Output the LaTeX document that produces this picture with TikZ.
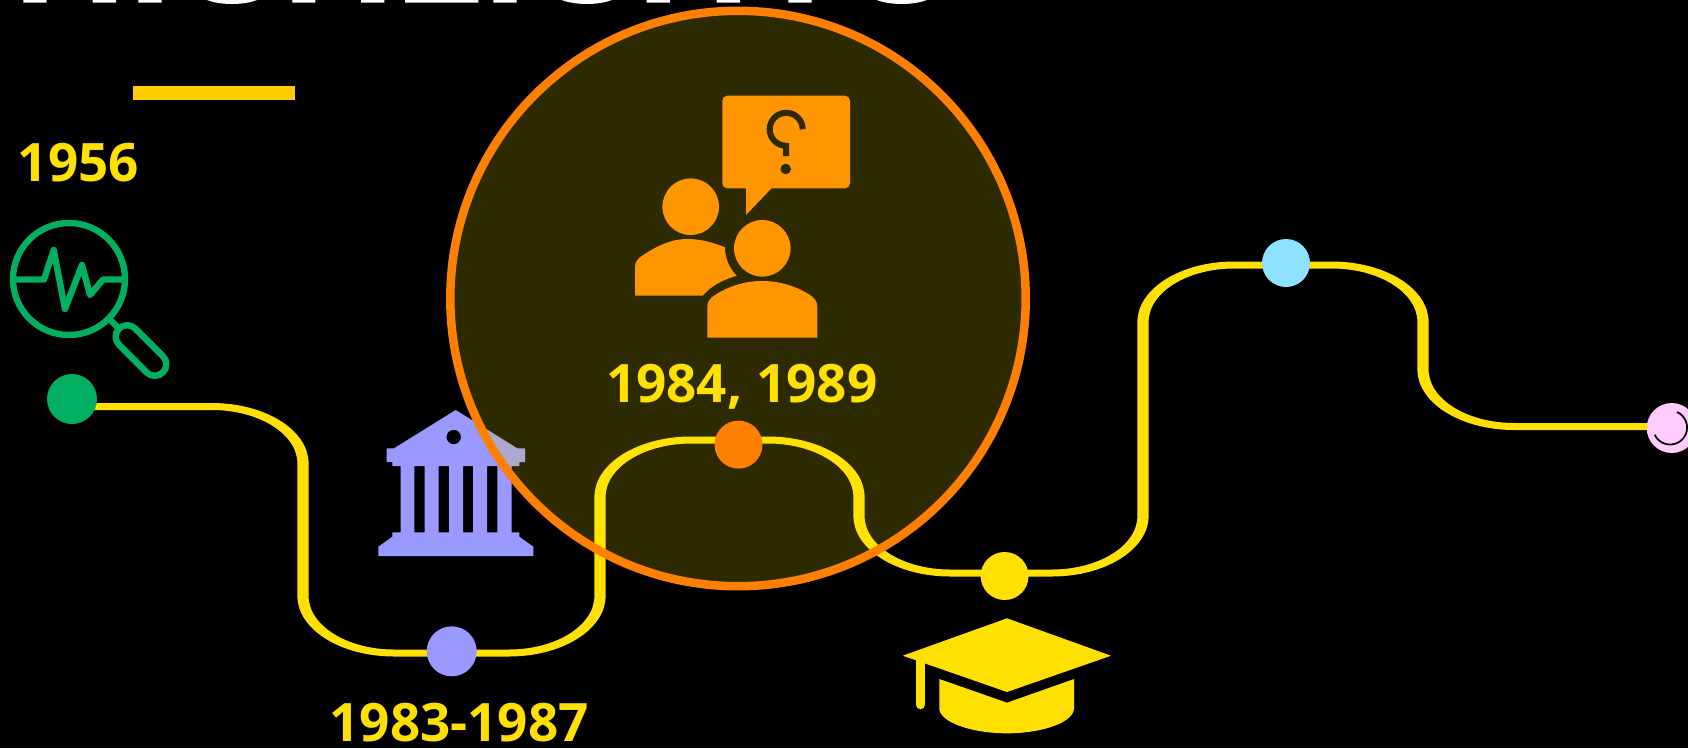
\documentclass[tikz,border=0pt]{standalone}
\usepackage{fontspec}
\setmainfont{Open Sans}
\usetikzlibrary{positioning}

\definecolor{trackyellow}{RGB}{255,224,0}
\definecolor{glowyellow}{RGB}{255,240,0}
\definecolor{barorange}{RGB}{255,204,0}
\definecolor{ringorange}{RGB}{255,128,0}
\definecolor{iconorange}{RGB}{255,149,0}
\definecolor{cutout}{RGB}{45,42,0}
\definecolor{searchgreen}{RGB}{0,176,96}
\definecolor{banklilac}{RGB}{153,153,255}
\definecolor{skyblue}{RGB}{140,226,255}
\definecolor{softpink}{RGB}{255,204,255}

\begin{document}
\begin{tikzpicture}
[x=1pt, y=-1pt,
% STYLES
year/.style={inner sep=0pt, text=trackyellow, font=\fontsize{53}{53}\selectfont\bfseries},
dot/.style={circle, inner sep=0pt, minimum size=50pt},
smalldot/.style={circle, inner sep=0pt, minimum size=48pt},
icon/.style={draw=searchgreen, line width=6.4pt, line join=round, line cap=round},
track/.style={draw=trackyellow, line width=7pt, rounded corners=57pt}]

\useasboundingbox [fill=black] (0,0) rectangle (1688,748);

% cut off title
\fill[white] (23.3,0) rectangle (46.7,2.7) (92.7,0) rectangle (116,2.7) (138.3,0) rectangle (161.7,2.7)
(292.3,0) rectangle (315.3,2.7) (361,0) rectangle (384.3,2.7) (405,0) rectangle (478.3,2.7)
(493.3,0) rectangle (516.7,2.7) (646.7,0) rectangle (670,2.7) (716.7,0) rectangle (740,2.7)
(788.3,0) rectangle (811.7,2.7);
\fill[white] (207,0) .. controls (220,5.3) and (244,5.3) .. (257,0) -- cycle;
\fill[white] (561.7,0) .. controls (575,5.3) and (599,5.3) .. (611.7,0) -- cycle;
\fill[white] (876.7,0) .. controls (890,5.3) and (914,5.3) .. (926.7,0) -- cycle;

\fill[barorange] (133.3,86.3) rectangle (295,100);

% track, wider than tall
\begin{scope}[transform canvas={xscale=1.6}, x=0.625pt]
\coordinate (trk-start) at (72,406.5);
\coordinate (trk-a) at (303,653);
\coordinate (trk-b) at (600,440);
\coordinate (trk-c) at (859,573);
\coordinate (trk-d) at (1143,265);
\coordinate (trk-e) at (1423,426.5);
\coordinate (trk-end) at (1671,426.5);
\draw[track] (trk-start) -| (trk-a) -| (trk-b) -| (trk-c) -| (trk-d) -| (trk-e) -- (trk-end);
\end{scope}

% bank
\fill[banklilac, even odd rule] (455.7,410) -- (517.3,448.3) -- (525,448.3) -- (525,462) -- (519.3,462) -- (519.3,466)
-- (511.7,466) -- (511.7,532.3) -- (519.3,532.3) -- (519.3,536.7) -- (533.3,546.7) -- (533.3,556)
-- (378.3,556) -- (378.3,546.7) -- (392.3,536.7) -- (392.3,532.3) -- (400.7,532.3) -- (400.7,466)
-- (392.3,466) -- (392.3,462) -- (386.7,462) -- (386.7,448.3) -- (394,448.3) -- cycle
(414.3,466) rectangle (424.7,532.3) (438.7,466) rectangle (449,532.3)
(463,466) rectangle (473,532.3) (487,466) rectangle (497.3,532.3)
(453.7,437) circle (7.3);

% highlight
\fill[glowyellow, fill opacity=0.175] (738,298.5) circle (287.7);
\draw[ringorange, line width=8.5pt] (738,298.5) circle (287.7);

% search icon
\node [icon, circle, inner sep=0pt, minimum size=112pt] (lens) at (69,279) {};
\node [icon, rectangle, rotate=-45, inner sep=0pt, minimum width=62pt, minimum height=23pt, rounded corners=11.4pt] (lens-handle) at (141,350.5) {};
\draw[icon] (lens) -- (lens-handle);
\draw[icon] (16,279.5) -- (44,279.5) -- (53.7,250) -- (65,309) -- (82,265) -- (90,295) -- (103,279.5) -- (122,279.5);

% people icon
\fill[iconorange, rounded corners=5pt] (722.3,95.7) rectangle (850,188.3);
\fill[iconorange] (746,187) -- (746,215) -- (772.7,187) -- cycle;
\draw[cutout, line width=6pt] (802.7,129.3) arc [start angle=0, end angle=-270, radius=16.5] -- (786.2,156);
\fill[cutout] (785.7,169) circle (5.3);
\fill[iconorange] (690.7,206.7) circle (28.3);
\fill[iconorange] (762.3,248.3) circle (28.3);
\fill[iconorange] (635,295.7) -- (702.7,295.7) .. controls (711,286) and (722,280) .. (736.7,275.7)
.. controls (729,268) and (725,258) .. (725,247.3) .. controls (712,242) and (700,239) .. (686.7,239)
.. controls (671,239) and (657,246) .. (643.3,255) .. controls (638,258) and (635,262) .. (635,266.7) -- cycle;
\fill[iconorange] (707.3,337.7) -- (817.3,337.7) -- (817.3,306.7) .. controls (817.3,301) and (814,298) .. (810,295)
.. controls (796,286) and (779,281) .. (762.3,281) .. controls (745,281) and (729,286) .. (715,295)
.. controls (710.5,298) and (707.3,301) .. (707.3,306.7) -- cycle;

% graduation cap
\fill[trackyellow] (902.7,655.7) -- (1007,618.3) -- (1111,655.7) -- (1007,692) -- cycle;
\draw[trackyellow, line width=9.3pt, line cap=round] (920.3,660) -- (920.3,704.6);
\fill[trackyellow] (939.3,679) -- (1007,702.7) -- (1074,679) -- (1074,708.3)
.. controls (1074,722) and (1043,733.3) .. (1007,733.3) .. controls (971,733.3) and (939.3,722) .. (939.3,708.3) -- cycle;

% dots
\node [dot, fill=searchgreen] (dot-search) at (72,399) {};
\node [dot, fill=banklilac] (dot-bank) at (451.7,651.3) {};
\node [smalldot, fill=ringorange] (dot-people) at (738.5,444.6) {};
\node [smalldot, fill=trackyellow] (dot-cap) at (1004.6,576) {};
\node [smalldot, fill=skyblue] (dot-sky) at (1286,263) {};
\node [dot, fill=softpink] (dot-pink) at (1671.7,428) {};
\draw[black, line width=1.7pt] (1677,412) arc [start angle=-66, end angle=155, radius=17];

% years
\node [year, anchor=base] (year-search) at (78.5,181) {1956};
\node [year, below=26pt of dot-bank, xshift=7.4pt] (year-bank) {1983-1987};
\node [year, above=11pt of dot-people, xshift=3.2pt] (year-people) {1984, 1989};

\end{tikzpicture}
\end{document}
